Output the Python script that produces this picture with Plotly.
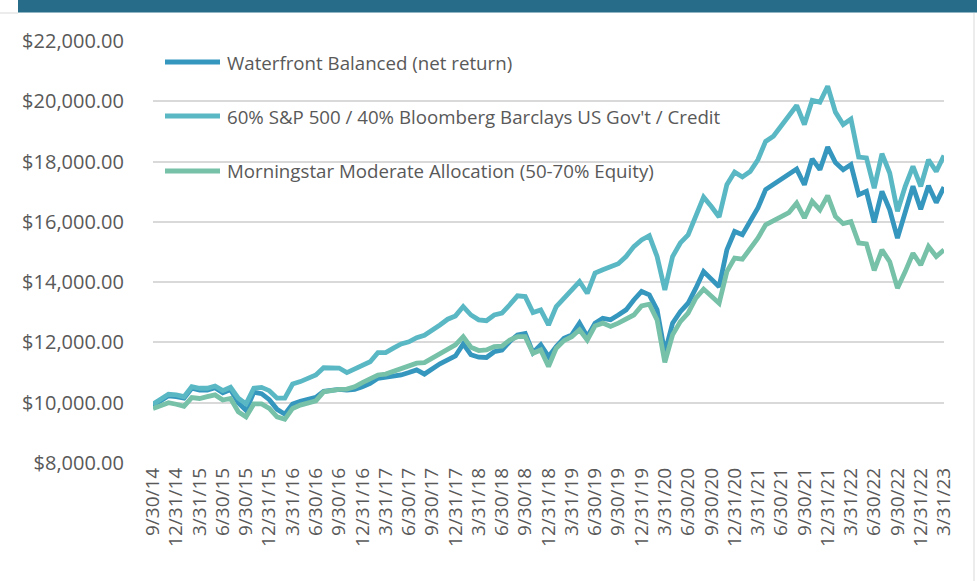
import pandas as pd
import plotly.graph_objects as go

# Month-end categories 9/30/14 .. 3/31/23
dates = pd.date_range("2014-09-30", "2023-03-31", freq="ME")
categories = [f"{d.month}/{d.day}/{d.year % 100:02d}" for d in dates]
tick_labels = categories[::3]

series_names = [
    "Waterfront Balanced (net return)",
    "60% S&P 500 / 40% Bloomberg Barclays US Gov't / Credit",
    "Morningstar Moderate Allocation (50-70% Equity)",
]

waterfront = [
    9900, 10080, 10230, 10200, 10150, 10480, 10420, 10420, 10500, 10330,
    10440, 10000, 9750, 10350, 10300, 10100, 9780, 9620, 9960, 10050,
    10100, 10180, 10380, 10420, 10440, 10420, 10440, 10530, 10640, 10810,
    10840, 10860, 10920, 11000, 11090, 10950, 11140, 11290, 11420, 11550,
    11950, 11590, 11510, 11500, 11690, 11750, 12030, 12250, 12300, 11660,
    11920, 11530, 11860, 12140, 12250, 12640, 12190, 12640, 12800, 12750,
    12910, 13080, 13410, 13690, 13580, 13080, 11650, 12640, 13020, 13300,
    13800, 14350, 14100, 13850, 15070, 15680, 15570, 16010, 16460, 17070,
    17230, 17400, 17560, 17750, 17230, 18090, 17730, 18480, 17970, 17730,
    17900, 16900, 17010, 15980, 17010, 16400, 15460, 16290, 17180, 16420,
    17200, 16640, 17150,
]

sp60_40 = [
    9950, 10110, 10280, 10260, 10200, 10530, 10480, 10480, 10555, 10400,
    10510, 10150, 9960, 10480, 10510, 10400, 10150, 10150, 10620, 10700,
    10810, 10920, 11160, 11160, 11150, 11000, 11110, 11220, 11360, 11660,
    11660, 11810, 11950, 12020, 12160, 12240, 12390, 12580, 12770, 12880,
    13190, 12910, 12750, 12720, 12910, 12970, 13250, 13545, 13520, 12990,
    13080, 12580, 13190, 13470, 13740, 14020, 13630, 14300, 14410, 14490,
    14610, 14850, 15180, 15400, 15540, 14850, 13740, 14850, 15300, 15570,
    16180, 16820, 16510, 16160, 17230, 17650, 17490, 17670, 18060, 18670,
    18840, 19170, 19520, 19860, 19230, 20030, 19970, 20500, 19640, 19230,
    19410, 18150, 18120, 17120, 18260, 17620, 16350, 17180, 17840, 17180,
    18060, 17670, 18200,
]

morningstar = [
    9810, 9920, 10000, 9950, 9880, 10170, 10140, 10200, 10260, 10090,
    10140, 9700, 9530, 9960, 9960, 9810, 9530, 9450, 9810, 9920,
    10000, 10060, 10360, 10420, 10440, 10450, 10530, 10670, 10810, 10920,
    10950, 11050, 11140, 11220, 11310, 11330, 11480, 11640, 11770, 11920,
    12190, 11840, 11730, 11750, 11860, 11880, 12080, 12190, 12190, 11640,
    11750, 11200, 11810, 12060, 12190, 12420, 12080, 12550, 12640, 12530,
    12640, 12770, 12910, 13210, 13270, 12750, 11340, 12250, 12690, 12970,
    13470, 13770, 13520, 13300, 14350, 14800, 14760, 15130, 15460, 15900,
    16050, 16180, 16310, 16620, 16130, 16680, 16400, 16870, 16180, 15940,
    16010, 15300, 15270, 14390, 15070, 14680, 13800, 14350, 14960, 14570,
    15180, 14850, 15070,
]

colors = ["#3596be", "#5ab8c4", "#76c1a8"]
all_series = [waterfront, sp60_40, morningstar]

W, H = 977, 581
L, R, T, B = 153, 33, 41, 118
PW, PH = W - L - R, H - T - B


def px_x(p):
    return (p - L) / PW


def px_y(p):
    return (H - B - p) / PH


fig = go.Figure()
for name, vals, col in zip(series_names, all_series, colors):
    fig.add_trace(go.Scatter(
        x=categories, y=vals, name=name, mode="lines",
        line=dict(color=col, width=4.8), showlegend=False,
        hovertemplate="%{x}<br>$%{y:,.2f}<extra>" + name + "</extra>",
    ))

font_family = "Open Sans, Noto Sans, DejaVu Sans, sans-serif"
text_col = "#595959"

shapes = [
    # header bar
    dict(type="rect", xref="paper", yref="paper",
         x0=px_x(18), x1=px_x(W + 5), y0=px_y(12.5), y1=px_y(-5),
         fillcolor="#276d8a", line=dict(width=0), layer="above"),
    # chart frame bits
    dict(type="line", xref="paper", yref="paper",
         x0=px_x(0), x1=px_x(18), y0=px_y(13), y1=px_y(13),
         line=dict(color="#d9d9d9", width=1)),
    dict(type="line", xref="paper", yref="paper",
         x0=px_x(974), x1=px_x(974), y0=px_y(13), y1=px_y(H + 5),
         line=dict(color="#d9d9d9", width=1)),
]

annotations = []
legend_y = [62, 116, 171]
for name, col, ly in zip(series_names, colors, legend_y):
    shapes.append(dict(type="line", xref="paper", yref="paper",
                       x0=px_x(165), x1=px_x(220), y0=px_y(ly), y1=px_y(ly),
                       line=dict(color=col, width=5)))
    annotations.append(dict(xref="paper", yref="paper", x=px_x(225), y=px_y(ly),
                            xanchor="left", yanchor="middle", showarrow=False,
                            text=name, font=dict(size=18.7, color=text_col,
                                                 family=font_family)))

fig.update_layout(
    width=W, height=H,
    margin=dict(l=L, r=R, t=T, b=B, pad=0),
    paper_bgcolor="white", plot_bgcolor="white",
    font=dict(family=font_family, color=text_col, size=19),
    shapes=shapes, annotations=annotations,
    showlegend=False,
    xaxis=dict(
        type="category", range=[0, len(categories) - 1],
        tickmode="array", tickvals=tick_labels, ticktext=tick_labels,
        tickangle=-90, showgrid=False, zeroline=False, showline=False,
        ticks="", tickfont=dict(size=19, color=text_col),
    ),
    yaxis=dict(
        range=[8000, 22000], dtick=2000, tick0=8000,
        tickformat="$,.2f", showgrid=True, gridcolor="#d9d9d9", gridwidth=1.5,
        zeroline=False, showline=False, ticks="", ticklabelstandoff=28,
        tickfont=dict(size=20, color=text_col),
    ),
)

fig.write_html(
    "out.html",
    config={"displayModeBar": False},
    post_script="document.body.style.margin='0';document.body.style.overflow='hidden';",
)
